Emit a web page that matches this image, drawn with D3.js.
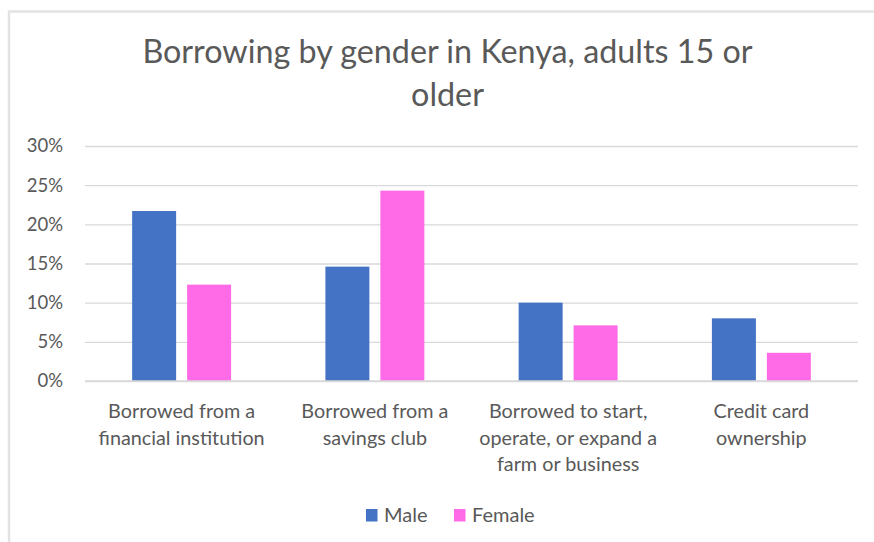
<!DOCTYPE html>
<html>
<head>
<meta charset="utf-8">
<script src="https://cdn.jsdelivr.net/npm/d3@7"></script>
<style>
  html, body { margin: 0; padding: 0; background: #fff; }
  svg { display: block; }
  text { font-family: Lato, "Open Sans", sans-serif; fill: #595959; }
</style>
</head>
<body>
<svg id="chart" width="874" height="542"></svg>
<script>
// Borrowing by gender in Kenya, adults 15 or older (share of adults, %)
const categories = [
  ["Borrowed from a", "financial institution"],
  ["Borrowed from a", "savings club"],
  ["Borrowed to start,", "operate, or expand a", "farm or business"],
  ["Credit card", "ownership"]
];
const seriesNames = ["Male", "Female"];
const maleValues = [21.7, 14.6, 10.0, 8.0];
const femaleValues = [12.3, 24.3, 7.1, 3.6];
const yTicks = [0, 5, 10, 15, 20, 25, 30];
const titleLines = ["Borrowing by gender in Kenya, adults 15 or", "older"];

const colors = { Male: "#4472C4", Female: "#FF6BE6" };

const W = 874, H = 542;
const margin = { top: 146, right: 16, bottom: 161, left: 85 };
const svg = d3.select("#chart");

// chart frame
svg.append("rect")
  .attr("x", 9).attr("y", 11.5)
  .attr("width", W + 20).attr("height", H + 20)
  .attr("fill", "none").attr("stroke", "#e3e3e3").attr("stroke-width", 2.5);

const plotW = W - margin.left - margin.right;
const plotH = H - margin.top - margin.bottom;
const g = svg.append("g").attr("transform", `translate(${margin.left},${margin.top})`);

const idx = d3.range(categories.length);
const x0 = d3.scaleBand().domain(idx).range([0, plotW]).paddingInner(0).paddingOuter(0);
const x1 = d3.scaleBand().domain(seriesNames)
  .range([x0.bandwidth() * 0.244, x0.bandwidth() * 0.756]).paddingInner(0.2);
const y = d3.scaleLinear().domain([0, 30]).range([plotH, 0]);

// gridlines
g.append("g")
  .call(d3.axisLeft(y).tickValues(yTicks).tickSize(-plotW).tickFormat(""))
  .call(a => a.select(".domain").remove())
  .call(a => a.selectAll("line").attr("stroke", "#d9d9d9").attr("stroke-width", 1.3));

// y tick labels
g.append("g")
  .attr("transform", "translate(-19,0)")
  .call(d3.axisLeft(y).tickValues(yTicks).tickSize(0).tickFormat(d => d + "%"))
  .call(a => a.select(".domain").remove())
  .call(a => a.selectAll("text")
    .attr("font-size", 18.5).attr("fill", "#595959")
    .style("font-family", "Lato, 'Open Sans', sans-serif"));

// bars
const rows = idx.map(i => ({ i, Male: maleValues[i], Female: femaleValues[i] }));
const groups = g.selectAll(".grp").data(rows).join("g")
  .attr("transform", d => `translate(${x0(d.i)},0)`);
groups.selectAll("rect")
  .data(d => seriesNames.map(s => ({ s, v: d[s] })))
  .join("rect")
  .attr("x", d => x1(d.s))
  .attr("width", x1.bandwidth())
  .attr("y", d => y(d.v))
  .attr("height", d => plotH - y(d.v))
  .attr("fill", d => colors[d.s]);

// axis baseline
g.append("line")
  .attr("x1", 0).attr("x2", plotW)
  .attr("y1", plotH).attr("y2", plotH)
  .attr("stroke", "#d9d9d9").attr("stroke-width", 1.3);

// category labels
const cat = g.append("g").selectAll("text").data(categories).join("text")
  .attr("text-anchor", "middle")
  .attr("font-size", 19.8)
  .attr("x", (d, i) => x0(i) + x0.bandwidth() / 2)
  .attr("y", plotH + 37);
cat.selectAll("tspan").data(d => d).join("tspan")
  .attr("x", function () { return this.parentNode.getAttribute("x"); })
  .attr("dy", (d, i) => i === 0 ? 0 : 26.5)
  .text(d => d);

// title
const title = svg.append("text")
  .attr("text-anchor", "middle")
  .attr("font-size", 32.3)
  .attr("x", 447.5).attr("y", 63);
title.selectAll("tspan").data(titleLines).join("tspan")
  .attr("x", 447.5)
  .attr("dy", (d, i) => i === 0 ? 0 : 43)
  .text(d => d);

// legend
const legend = svg.append("g").attr("transform", "translate(366,509)");
const items = [
  { s: "Male", x: 0 },
  { s: "Female", x: 88 }
];
const li = legend.selectAll("g").data(items).join("g")
  .attr("transform", d => `translate(${d.x},0)`);
li.append("rect").attr("width", 11.5).attr("height", 12.5).attr("fill", d => colors[d.s]);
li.append("text").attr("x", 18).attr("y", 13).attr("font-size", 20).text(d => d.s);
</script>
</body>
</html>
